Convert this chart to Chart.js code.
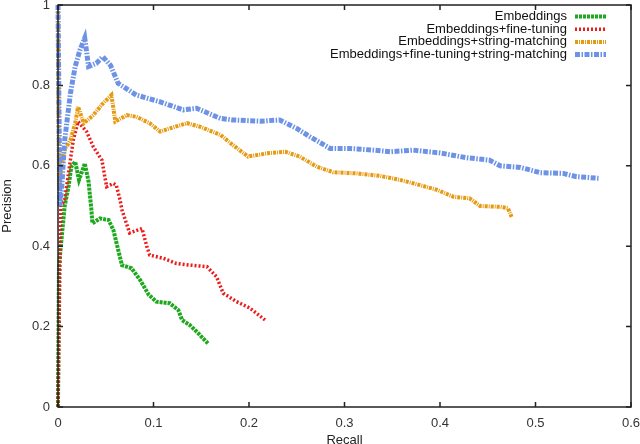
<!DOCTYPE html>
<html>
<head>
<meta charset="utf-8">
<script src="https://cdn.jsdelivr.net/npm/chart.js@4.4.0/dist/chart.umd.min.js"></script>
<style>
  html, body { margin: 0; padding: 0; background: #fff; overflow: hidden; }
  canvas { display: block; }
</style>
</head>
<body>
<canvas id="pr-chart" width="640" height="448"></canvas>
<script>
// Precision / recall values
var seriesNames = [
  'Embeddings',
  'Embeddings+fine-tuning',
  'Embeddings+string-matching',
  'Embeddings+fine-tuning+string-matching'
];

var embRecall = [0, 0.001, 0.005, 0.007, 0.011, 0.014, 0.018, 0.022, 0.027, 0.028, 0.032, 0.035, 0.036, 0.044,
  0.053, 0.058, 0.063, 0.067, 0.077, 0.086, 0.095, 0.103, 0.117, 0.126, 0.130, 0.138, 0.147, 0.157];
var embPrecision = [0, 0.35, 0.45, 0.50, 0.548, 0.598, 0.61, 0.565, 0.598, 0.606, 0.561, 0.49, 0.457, 0.469,
  0.465, 0.44, 0.391, 0.353, 0.345, 0.316, 0.279, 0.262, 0.258, 0.241, 0.216, 0.204, 0.183, 0.158];

var ftRecall = [0, 0.002, 0.003, 0.007, 0.011, 0.016, 0.021, 0.030, 0.037, 0.046, 0.049, 0.051, 0.058, 0.061,
  0.065, 0.067, 0.074, 0.075, 0.088, 0.093, 0.096, 0.110, 0.124, 0.138, 0.156, 0.166, 0.173, 0.187, 0.201, 0.208, 0.217];
var ftPrecision = [0, 0.35, 0.5, 0.515, 0.582, 0.664, 0.71, 0.685, 0.647, 0.614, 0.573, 0.548, 0.556, 0.552,
  0.515, 0.49, 0.44, 0.433, 0.444, 0.399, 0.378, 0.370, 0.357, 0.353, 0.349, 0.324, 0.283, 0.262, 0.246, 0.233, 0.216];

var smRecall = [0, 0.001, 0.004, 0.007, 0.013, 0.018, 0.021, 0.027, 0.037, 0.047, 0.056, 0.060, 0.072, 0.082,
  0.096, 0.107, 0.117, 0.135, 0.149, 0.170, 0.183, 0.199, 0.219, 0.238, 0.253, 0.271, 0.288, 0.313, 0.337,
  0.358, 0.379, 0.397, 0.414, 0.431, 0.442, 0.463, 0.471, 0.475];
var smPrecision = [1.0, 0.55, 0.6, 0.64, 0.664, 0.706, 0.747, 0.706, 0.726, 0.755, 0.776, 0.71, 0.726, 0.722,
  0.706, 0.685, 0.693, 0.706, 0.697, 0.677, 0.652, 0.623, 0.631, 0.635, 0.623, 0.598, 0.584, 0.581, 0.575,
  0.565, 0.552, 0.540, 0.523, 0.519, 0.5, 0.498, 0.495, 0.473];

var allRecall = [0, 0.002, 0.004, 0.007, 0.013, 0.018, 0.023, 0.028, 0.032, 0.040, 0.047, 0.055, 0.063, 0.082,
  0.107, 0.131, 0.145, 0.170, 0.183, 0.212, 0.232, 0.250, 0.264, 0.285, 0.306, 0.330, 0.348, 0.372, 0.400,
  0.428, 0.452, 0.463, 0.484, 0.505, 0.529, 0.543, 0.566];
var allPrecision = [1.0, 0.5, 0.55, 0.664, 0.78, 0.847, 0.888, 0.918, 0.847, 0.855, 0.871, 0.85, 0.805, 0.776,
  0.759, 0.739, 0.743, 0.718, 0.714, 0.711, 0.714, 0.693, 0.672, 0.643, 0.643, 0.639, 0.635, 0.639, 0.632,
  0.62, 0.614, 0.6, 0.596, 0.583, 0.581, 0.573, 0.569];

var xTicks = [0, 0.1, 0.2, 0.3, 0.4, 0.5, 0.6];
var yTicks = [0, 0.2, 0.4, 0.6, 0.8, 1];

var colors = ['#1fa81f', '#ec1c1c', '#e69a12', '#6e93e6'];
var dashes = [[3, 1], [2, 2], [3, 1, 1, 1], [5, 1.5, 1.5, 1.5]];
var widths = [4, 3.5, 4, 5];

var FONT = 'Liberation Sans, Arial, Helvetica, sans-serif';

function toPoints(xs, ys) {
  var pts = [];
  for (var i = 0; i < xs.length; i++) pts.push({ x: xs[i], y: ys[i] });
  return pts;
}

var seriesData = [
  toPoints(embRecall, embPrecision),
  toPoints(ftRecall, ftPrecision),
  toPoints(smRecall, smPrecision),
  toPoints(allRecall, allPrecision)
];

var datasets = seriesData.map(function(pts, i) {
  return {
    label: seriesNames[i],
    data: pts,
    showLine: true,
    borderColor: colors[i],
    backgroundColor: colors[i],
    borderWidth: widths[i],
    borderDash: dashes[i],
    borderCapStyle: 'butt',
    borderJoinStyle: 'miter',
    pointRadius: 0,
    tension: 0,
    fill: false,
    clip: false,
    order: 3 - i   // gnuplot draws the last series on top
  };
});

// box around plot, inward ticks on all four sides, legend in the top-right corner
var framePlugin = {
  id: 'frame',
  afterDatasetsDraw: function(chart) {
    var ctx = chart.ctx;
    var a = chart.chartArea;
    var xs = chart.scales.x, ys = chart.scales.y;
    ctx.save();
    ctx.strokeStyle = '#222';
    ctx.lineWidth = 1.5;
    ctx.setLineDash([]);
    ctx.strokeRect(a.left, a.top, a.right - a.left, a.bottom - a.top);
    ctx.beginPath();
    xTicks.forEach(function(v) {
      var px = xs.getPixelForValue(v);
      ctx.moveTo(px, a.bottom); ctx.lineTo(px, a.bottom - 5);
      ctx.moveTo(px, a.top); ctx.lineTo(px, a.top + 5);
    });
    yTicks.forEach(function(v) {
      var py = ys.getPixelForValue(v);
      ctx.moveTo(a.left, py); ctx.lineTo(a.left + 5, py);
      ctx.moveTo(a.right, py); ctx.lineTo(a.right - 5, py);
    });
    ctx.stroke();

    // legend
    ctx.font = '13px ' + FONT;
    ctx.textAlign = 'right';
    ctx.textBaseline = 'middle';
    chart.data.datasets.forEach(function(ds, i) {
      var y = 16.5 + i * 12.7;
      ctx.fillStyle = '#111';
      ctx.fillText(ds.label, 567, y);
      ctx.beginPath();
      ctx.strokeStyle = ds.borderColor;
      ctx.lineWidth = ds.borderWidth;
      ctx.setLineDash(ds.borderDash);
      ctx.moveTo(575, y);
      ctx.lineTo(606, y);
      ctx.stroke();
    });
    ctx.restore();
  }
};

var ctx = document.getElementById('pr-chart').getContext('2d');

var prChart = new Chart(ctx, {
  type: 'scatter',
  data: { datasets: datasets },
  options: {
    responsive: false,
    animation: false,
    layout: { padding: { top: 5, right: 9, left: 0, bottom: 0 } },
    scales: {
      x: {
        type: 'linear',
        min: 0,
        max: 0.6,
        afterBuildTicks: function(scale) {
          scale.ticks = xTicks.map(function(v) { return { value: v }; });
        },
        afterFit: function(scale) {
          scale.height = 41;
          scale.paddingLeft = 0;
          scale.paddingRight = 0;
        },
        grid: { display: false, drawTicks: false },
        border: { display: false },
        ticks: {
          padding: 9,
          color: '#333',
          font: { family: FONT, size: 13 },
          maxRotation: 0,
          callback: function(v) { return String(+v.toFixed(2)); }
        },
        title: {
          display: true,
          text: 'Recall',
          color: '#222',
          font: { family: FONT, size: 13 },
          padding: 0
        }
      },
      y: {
        type: 'linear',
        min: 0,
        max: 1,
        afterBuildTicks: function(scale) {
          scale.ticks = yTicks.map(function(v) { return { value: v }; });
        },
        afterFit: function(scale) {
          scale.width = 58;
          scale.paddingTop = 0;
          scale.paddingBottom = 0;
        },
        grid: { display: false, drawTicks: false },
        border: { display: false },
        ticks: {
          padding: 8,
          color: '#333',
          font: { family: FONT, size: 13 },
          callback: function(v) { return String(+v.toFixed(2)); }
        },
        title: {
          display: true,
          text: 'Precision',
          color: '#222',
          font: { family: FONT, size: 13 },
          padding: 0
        }
      }
    },
    plugins: {
      legend: { display: false },
      tooltip: { enabled: false }
    }
  },
  plugins: [framePlugin]
});
</script>
</body>
</html>
